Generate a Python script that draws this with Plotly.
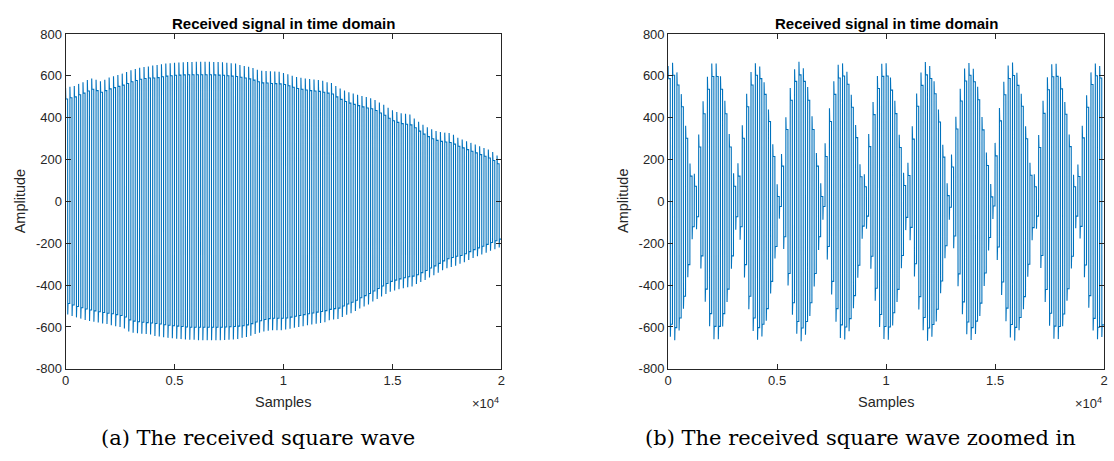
import plotly.graph_objects as go

# ---------------- data ----------------
PERIOD = 200  # samples per square-wave cycle (about 100 cycles over 2e4 samples)

# (a) hold level of the high half-cycle, per cycle
left_high = [490, 496, 500, 510, 518, 528, 536, 530, 522, 530,
             538, 544, 550, 556, 564, 572, 578, 584, 588, 590,
             590, 592, 596, 599, 601, 603, 604, 605, 606, 606,
             606, 606, 606, 606, 605, 604, 603, 601, 599, 597,
             594, 590, 586, 580, 572, 567, 566, 564, 563, 562,
             559, 553, 546, 540, 536, 533, 530, 528, 526, 522,
             518, 514, 500, 488, 478, 470, 464, 458, 452, 447,
             443, 435, 423, 412, 398, 386, 378, 372, 369, 366,
             352, 336, 322, 310, 300, 292, 287, 284, 282, 274,
             264, 256, 248, 240, 232, 224, 216, 208, 196, 180]
# (a) hold level of the low half-cycle, per cycle
left_low = [-488, -495, -502, -508, -514, -519, -523, -527, -531, -534,
            -537, -541, -545, -552, -566, -572, -575, -577, -579, -581,
            -583, -586, -589, -592, -594, -596, -598, -600, -601, -601,
            -601, -601, -601, -601, -601, -601, -600, -599, -598, -596,
            -594, -590, -584, -576, -570, -564, -560, -558, -558, -558,
            -557, -553, -549, -545, -541, -537, -533, -529, -526, -522,
            -516, -512, -510, -500, -490, -482, -472, -460, -450, -440,
            -428, -416, -404, -392, -382, -376, -370, -365, -360, -357,
            -350, -340, -330, -318, -308, -296, -284, -274, -268, -262,
            -258, -250, -240, -230, -222, -214, -205, -196, -188, -180]
# (a) overshoot of the edges, per block of 2000 samples
left_overshoot = [52, 55, 60, 62, 58, 55, 52, 50, 45, 40]

# (b) hold amplitude per cycle (beating envelope)
right_amp = [587, 603, 557, 453, 302, 121, 73, 260, 419, 536,
             597, 597, 536, 419, 260, 73, 121, 302, 453, 557,
             603, 587, 512, 382, 215, 24, 169, 344, 484, 574,
             605, 574, 484, 344, 169, 24, 215, 382, 512, 590,
             600, 560, 450, 305, 118, 70, 262, 415, 540, 598,
             600, 532, 420, 258, 76, 124, 298, 455, 555, 605,
             588, 515, 380, 212, 28, 165, 346, 480, 576, 603,
             572, 486, 342, 172, 22, 218, 385, 510, 588, 602,
             555, 455, 300, 125, 70, 258, 421, 534, 596, 598,
             538, 417, 262, 70, 119, 304, 450, 559, 601, 590]
# (b) overshoot of the edges, per block of 2000 samples
right_overshoot = [60, 62, 58, 63, 60, 61, 59, 62, 60, 58]

x_tick_vals = [0, 5000, 10000, 15000, 20000]
x_tick_text = ["0", "0.5", "1", "1.5", "2"]
y_tick_vals = [-800, -600, -400, -200, 0, 200, 400, 600, 800]
y_tick_text = ["-800", "-600", "-400", "-200", "0", "200", "400", "600", "800"]

title_text = "Received signal in time domain"
captions = ["(a) The received square wave", "(b) The received square wave zoomed in"]


def build(high, low, over):
    xs, ys = [], []
    n = len(high)
    for k in range(n):
        x0 = k * PERIOD
        o = over[k * len(over) // n]
        h, l = high[k], low[k]
        xs += [x0, x0 + 12, x0 + 95, x0 + 100, x0 + 112, x0 + 195]
        ys += [h + o, h, h, l - o, l, l]
    return xs, ys


lx, ly = build(left_high, left_low, left_overshoot)
rx, ry = build(right_amp, [-a for a in right_amp], right_overshoot)

W, H = 1114, 461
LINE = "#0072BD"
AX = "#262626"
FONT = "Liberation Sans, Arial, Helvetica, sans-serif"

fig = go.Figure()
fig.add_trace(go.Scatter(x=lx, y=ly, mode="lines", line=dict(color=LINE, width=1.1),
                         xaxis="x", yaxis="y", showlegend=False, hoverinfo="skip"))
fig.add_trace(go.Scatter(x=rx, y=ry, mode="lines", line=dict(color=LINE, width=1.1),
                         xaxis="x2", yaxis="y2", showlegend=False, hoverinfo="skip"))


def px(v):
    return v / W


def py(v):
    return 1 - v / H


ydom = [py(374), py(28)]
common_x = dict(range=[0, 20000], tickvals=x_tick_vals, ticktext=x_tick_text,
                ticks="inside", ticklen=5, tickcolor=AX, tickwidth=1,
                showline=True, linecolor=AX, linewidth=1, mirror="ticks",
                showgrid=False, zeroline=False,
                tickfont=dict(family=FONT, size=13, color=AX))
common_y = dict(range=[-800, 800], tickvals=y_tick_vals, ticktext=y_tick_text,
                ticks="inside", ticklen=5, tickcolor=AX, tickwidth=1,
                showline=True, linecolor=AX, linewidth=1, mirror="ticks",
                showgrid=False, zeroline=False, domain=ydom,
                tickfont=dict(family=FONT, size=13, color=AX))

fig.update_layout(
    width=W, height=H, margin=dict(l=0, r=0, t=0, b=0),
    paper_bgcolor="white", plot_bgcolor="white",
    xaxis=dict(domain=[px(62), px(501)], anchor="y", **common_x),
    yaxis=dict(anchor="x", **common_y),
    xaxis2=dict(domain=[px(669), px(1108)], anchor="y2", **common_x),
    yaxis2=dict(anchor="x2", **common_y),
)

ann = []
for (l, r, ylab_x) in [(62, 501, 17), (669, 1108, 624)]:
    cx = (l + r) / 2
    ann.append(dict(text="<b>" + title_text + "</b>", x=px(cx), y=py(17), xref="paper", yref="paper",
                    showarrow=False, font=dict(family=FONT, size=15, color="black"),
                    xanchor="center", yanchor="middle"))
    ann.append(dict(text="Samples", x=px(cx), y=py(408), xref="paper", yref="paper",
                    showarrow=False, font=dict(family=FONT, size=14.5, color=AX),
                    xanchor="center", yanchor="middle"))
    ann.append(dict(text="Amplitude", x=px(ylab_x), y=py(201), xref="paper", yref="paper",
                    showarrow=False, textangle=-90, font=dict(family=FONT, size=14.5, color=AX),
                    xanchor="center", yanchor="middle"))
    ann.append(dict(text="×10<sup>4</sup>", x=px(r), y=py(409), xref="paper", yref="paper",
                    showarrow=False, font=dict(family=FONT, size=13, color=AX),
                    xanchor="right", yanchor="middle"))
for cap, cap_x in zip(captions, [256, 863]):
    ann.append(dict(text=cap, x=px(cap_x), y=py(446), xref="paper", yref="paper",
                    showarrow=False, font=dict(family="DejaVu Serif, serif", size=21, color="black"),
                    xanchor="center", yanchor="middle"))
fig.update_layout(annotations=ann)

fig.write_html("out.html")
